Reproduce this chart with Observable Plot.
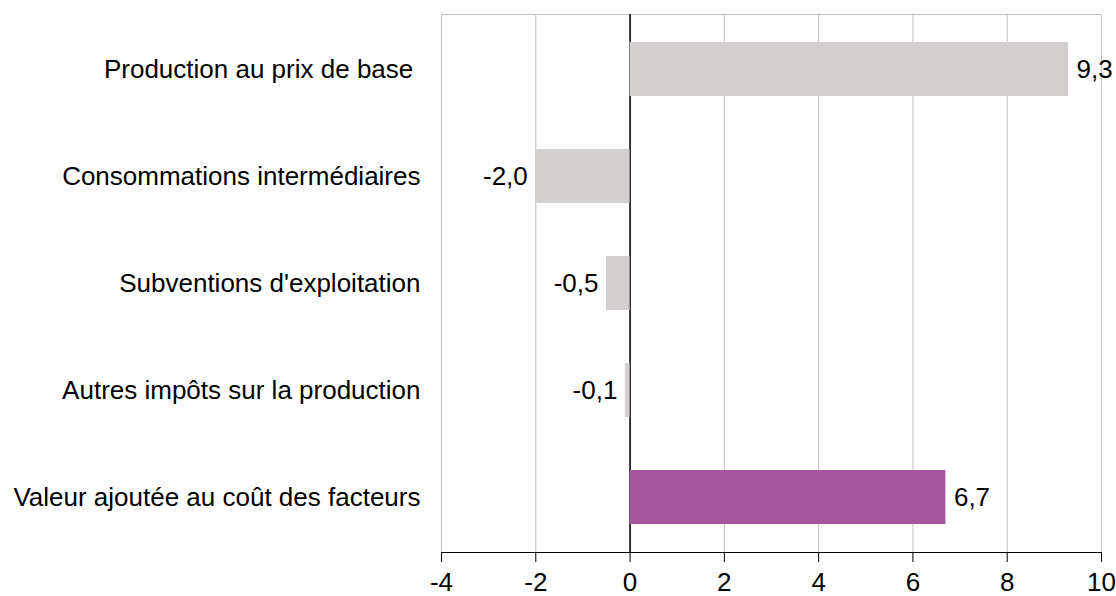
<!DOCTYPE html>
<html>
<head>
<meta charset="utf-8">
<script src="https://cdn.jsdelivr.net/npm/d3@7"></script>
<script src="https://cdn.jsdelivr.net/npm/@observablehq/plot@0.6"></script>
<style>
  html, body { margin: 0; padding: 0; background: #fff; }
</style>
</head>
<body>
<div id="chart"></div>
<script>
const categories = [
  "Production au prix de base ",
  "Consommations intermédiaires",
  "Subventions d'exploitation",
  "Autres impôts sur la production",
  "Valeur ajoutée au coût des facteurs"
];
const values = [9.3, -2.0, -0.5, -0.1, 6.7];
const xTicks = [-4, -2, 0, 2, 4, 6, 8, 10];
const highlighted = "Valeur ajoutée au coût des facteurs";

const GRAY = "#d3cfcf";
const PURPLE = "#a855a0";
const FONT = "'Liberation Sans', Arial, sans-serif";
const FS = 26;

const data = categories.map((c, i) => ({category: c, value: values[i]}));
const fmt = v => v.toFixed(1).replace(".", ",");

const chart = Plot.plot({
  width: 1116,
  height: 596,
  marginLeft: 441,
  marginRight: 15,
  marginTop: 14,
  marginBottom: 44,
  x: {domain: [-4, 10]},
  y: {domain: categories, paddingInner: 0.5, paddingOuter: 0.25},
  style: {fontFamily: FONT, fontSize: FS + "px", background: "white", color: "black"},
  marks: [
    Plot.gridX(xTicks, {stroke: "#c0c0c0", strokeOpacity: 1}),
    Plot.frame({stroke: "#c0c0c0"}),
    Plot.ruleX([0], {stroke: "black", strokeWidth: 1.5}),
    Plot.barX(data, {
      x: "value",
      y: "category",
      fill: d => d.category === highlighted ? PURPLE : GRAY
    }),
    Plot.text(data, {
      filter: d => d.value >= 0,
      x: "value", y: "category",
      text: d => fmt(d.value),
      textAnchor: "start", dx: 8,
      fontSize: FS, fill: "black"
    }),
    Plot.text(data, {
      filter: d => d.value < 0,
      x: "value", y: "category",
      text: d => fmt(d.value),
      textAnchor: "end", dx: -8,
      fontSize: FS, fill: "black"
    }),
    Plot.axisX({ticks: xTicks, tickSize: 10, tickPadding: 10, fontSize: FS, label: null,
      stroke: "black", tickFormat: d => String(d)}),
    Plot.frame({anchor: "bottom", stroke: "black"}),
    Plot.axisY({tickSize: 0, tickPadding: 21, fontSize: FS, label: null,
      tickFormat: d => d.replace(/ $/, "\u00a0")})
  ]
});
document.getElementById("chart").appendChild(chart);
</script>
</body>
</html>
